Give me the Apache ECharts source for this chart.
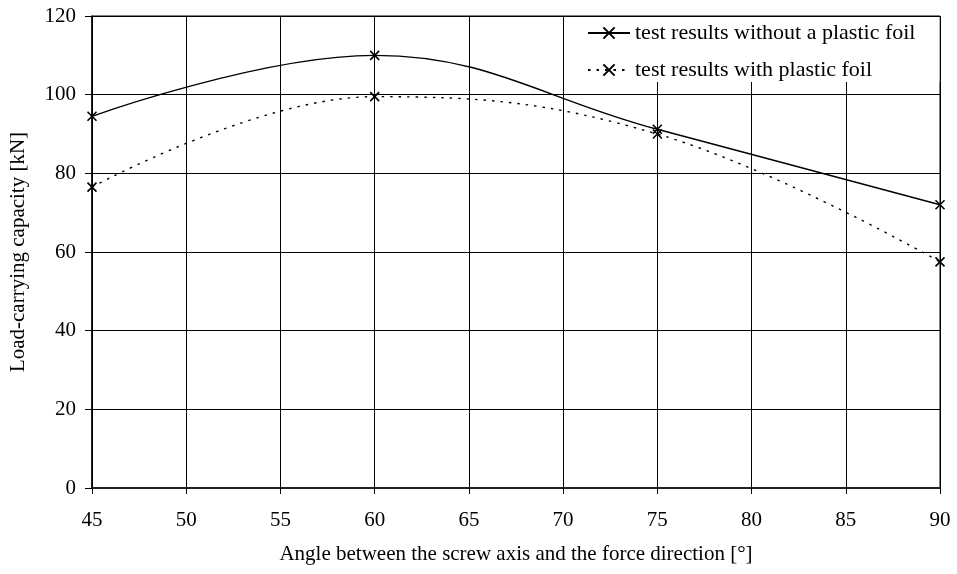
<!DOCTYPE html>
<html>
<head>
<meta charset="utf-8">
<script src="https://cdn.jsdelivr.net/npm/echarts@6/dist/echarts.min.js"></script>
<style>
  html, body { margin: 0; padding: 0; background: #fff; }
  #chart { width: 957px; height: 574px; }
</style>
</head>
<body>
<div id="chart"></div>
<script>
// angles of the tests [deg]
const angles = [45, 60, 75, 90];
// load-carrying capacity [kN]
const withoutFoil = [94.5, 110, 91.2, 72];
const withFoil = [76.5, 99.5, 90, 57.5];
const seriesNames = ['test results without a plastic foil', 'test results with plastic foil'];

const font = 'Liberation Serif, Times New Roman, serif';
// x shaped marker
const crossMark = 'path://M0,0L10,10M10,0L0,10';

function pairs(ys) {
  return angles.map((a, i) => [a, ys[i]]);
}

const chart = echarts.init(document.getElementById('chart'));
const option = {
  animation: false,
  textStyle: { fontFamily: font, color: '#000' },
  grid: {
    left: 92, right: 17, top: 16, bottom: 86,
    show: true, borderColor: '#000', borderWidth: 1
  },
  legend: {
    orient: 'vertical',
    left: 563, top: 17,
    padding: [5, 24, 1, 24],
    itemGap: 15,
    itemWidth: 42, itemHeight: 14,
    backgroundColor: '#fff',
    borderWidth: 0,
    textStyle: { fontFamily: font, fontSize: 22, lineHeight: 22, color: '#000' },
    data: seriesNames
  },
  // left edge of the legend box
  graphic: [{
    type: 'line',
    shape: { x1: 563.5, y1: 16, x2: 563.5, y2: 83 },
    style: { stroke: '#000', lineWidth: 1 },
    z: 100
  }],
  xAxis: {
    type: 'value',
    min: 45, max: 90, interval: 5,
    name: 'Angle between the screw axis and the force direction [°]',
    nameLocation: 'middle', nameGap: 56,
    nameTextStyle: { fontFamily: font, fontSize: 21, color: '#000' },
    axisLine: { lineStyle: { color: '#222', width: 2 } },
    axisTick: { show: true, length: 6, lineStyle: { color: '#000' } },
    axisLabel: { fontFamily: font, fontSize: 21, color: '#000', margin: 22 },
    splitLine: { show: true, lineStyle: { color: '#000', width: 1 } }
  },
  yAxis: {
    type: 'value',
    min: 0, max: 120, interval: 20,
    name: 'Load-carrying capacity [kN]',
    nameLocation: 'middle', nameGap: 63, nameRotate: 90,
    nameTextStyle: { fontFamily: font, fontSize: 21, color: '#000' },
    axisLine: { show: true, lineStyle: { color: '#000', width: 1.5 } },
    axisTick: { show: true, length: 7, lineStyle: { color: '#000' } },
    axisLabel: { fontFamily: font, fontSize: 21, color: '#000', margin: 16 },
    splitLine: { show: true, lineStyle: { color: '#000', width: 1 } }
  },
  series: [
    {
      name: seriesNames[0],
      type: 'line',
      data: pairs(withoutFoil),
      smooth: 0.4,
      symbol: crossMark,
      symbolSize: 9,
      lineStyle: { color: '#000', width: 1.4 },
      itemStyle: { color: 'transparent', borderColor: '#000', borderWidth: 1.6 },
      z: 3
    },
    {
      name: seriesNames[1],
      type: 'line',
      data: pairs(withFoil),
      smooth: 0.4,
      symbol: crossMark,
      symbolSize: 9,
      lineStyle: { color: '#000', width: 1.4, type: [2.5, 6] },
      itemStyle: { color: 'transparent', borderColor: '#000', borderWidth: 1.6 },
      z: 3
    }
  ]
};
chart.setOption(option);
</script>
</body>
</html>
